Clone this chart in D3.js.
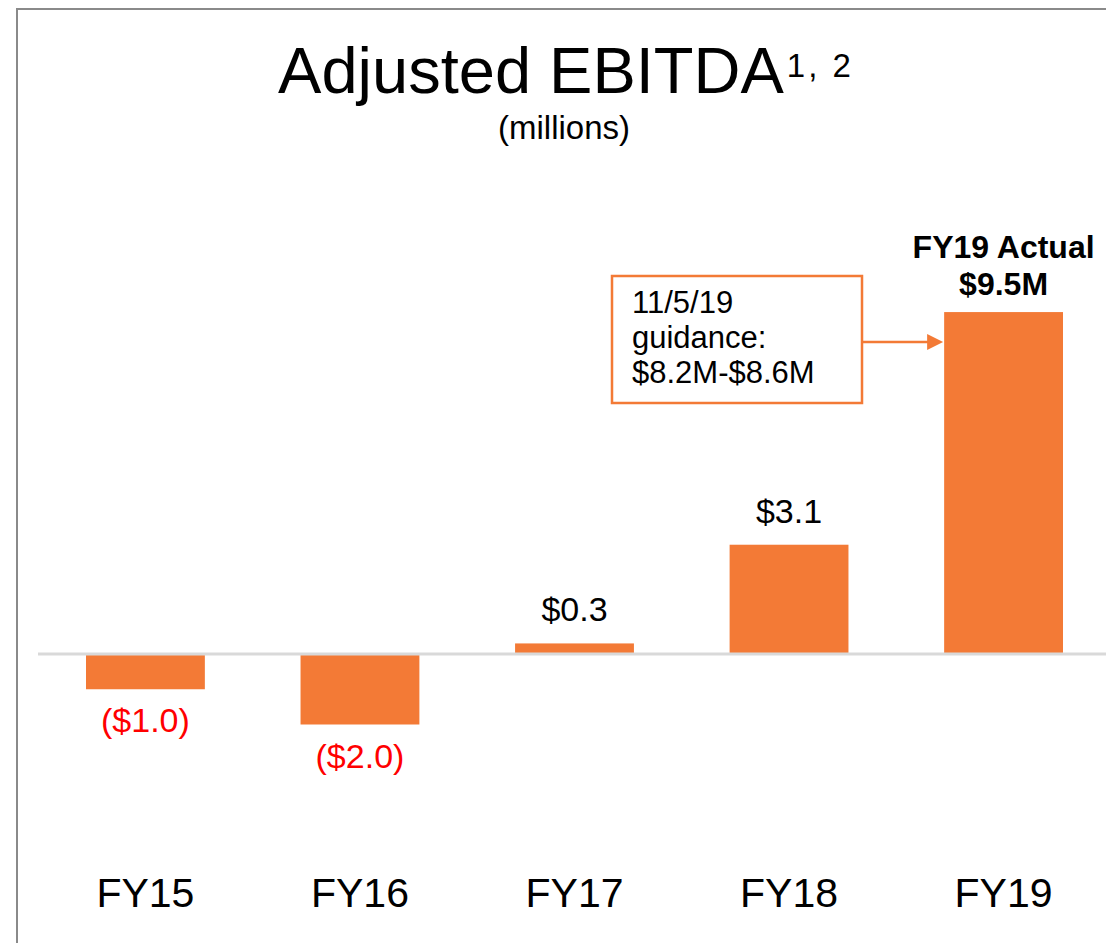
<!DOCTYPE html>
<html>
<head>
<meta charset="utf-8">
<script src="https://cdn.jsdelivr.net/npm/d3@7"></script>
<style>
  html, body { margin: 0; padding: 0; background: #fff; }
  svg { display: block; }
  text { font-family: "Liberation Sans", Arial, sans-serif; }
</style>
</head>
<body>
<svg id="chart" width="1106" height="943"></svg>
<script>
// ---- data ----
const categories = ["FY15", "FY16", "FY17", "FY18", "FY19"];
const values = [-1.0, -2.0, 0.3, 3.1, 9.7];   // bar heights as drawn (FY19 bar measures ~9.7)
const valueLabels = ["($1.0)", "($2.0)", "$0.3", "$3.1", ""];
const fy19Labels = ["FY19 Actual", "$9.5M"];
const guidanceLines = ["11/5/19", "guidance:", "$8.2M-$8.6M"];
const titleText = "Adjusted EBITDA";
const titleSup = "1, 2";
const subtitleText = "(millions)";

// ---- layout ----
const W = 1106, H = 943;
const svg = d3.select("#chart");
const barColor = "#f37a36";

const x = d3.scaleBand().domain(categories).range([86, 1063]).paddingInner(0.446).paddingOuter(0);
const y = d3.scaleLinear().domain([-3, 10]).range([654 + 3 * 35.25, 654 - 10 * 35.25]);

// frame border (top + left)
svg.append("path")
  .attr("d", `M17,${H} V9 H${W}`)
  .attr("fill", "none").attr("stroke", "#8a8a8a").attr("stroke-width", 2);

// title
const title = svg.append("text")
  .attr("x", 566).attr("y", 93)
  .attr("text-anchor", "middle")
  .attr("fill", "#000");
title.append("tspan").attr("font-size", 65).text(titleText);
title.append("tspan").attr("font-size", 33).attr("dx", 3).attr("dy", -16).attr("letter-spacing", 3).text(titleSup);

svg.append("text")
  .attr("x", 564).attr("y", 139)
  .attr("text-anchor", "middle")
  .attr("font-size", 33).attr("fill", "#000")
  .text(subtitleText);

// bars
svg.append("g").selectAll("rect")
  .data(values)
  .join("rect")
  .attr("x", (d, i) => x(categories[i]))
  .attr("width", x.bandwidth())
  .attr("y", d => Math.min(y(d), y(0)))
  .attr("height", d => Math.abs(y(d) - y(0)))
  .attr("fill", barColor);

// zero line
svg.append("line")
  .attr("x1", 38).attr("x2", W)
  .attr("y1", y(0)).attr("y2", y(0))
  .attr("stroke", "#d9d9d9").attr("stroke-width", 3);

// value labels
svg.append("g").selectAll("text")
  .data(values)
  .join("text")
  .attr("x", (d, i) => x(categories[i]) + x.bandwidth() / 2)
  .attr("y", d => d < 0 ? y(d) + 43 : y(d) - 22)
  .attr("text-anchor", "middle")
  .attr("font-size", 34)
  .attr("fill", d => d < 0 ? "#ff0000" : "#000")
  .text((d, i) => valueLabels[i]);

// FY19 bold label
const cx19 = x("FY19") + x.bandwidth() / 2;
svg.append("g").selectAll("text")
  .data(fy19Labels)
  .join("text")
  .attr("x", cx19)
  .attr("y", (d, i) => 258 + i * 37)
  .attr("text-anchor", "middle")
  .attr("font-size", 32).attr("font-weight", "bold").attr("fill", "#000")
  .text(d => d);

// category labels
svg.append("g").selectAll("text")
  .data(categories)
  .join("text")
  .attr("x", d => x(d) + x.bandwidth() / 2)
  .attr("y", 907)
  .attr("text-anchor", "middle")
  .attr("font-size", 41).attr("fill", "#000")
  .text(d => d);

// guidance callout
svg.append("rect")
  .attr("x", 612).attr("y", 276).attr("width", 250).attr("height", 127)
  .attr("fill", "#fff").attr("stroke", barColor).attr("stroke-width", 2.5);
svg.append("g").selectAll("text")
  .data(guidanceLines)
  .join("text")
  .attr("x", 632)
  .attr("y", (d, i) => 313 + i * 35)
  .attr("font-size", 31).attr("fill", "#000")
  .text(d => d);

// arrow
const arrowY = 342;
const tipX = x("FY19") - 1;
svg.append("line")
  .attr("x1", 862).attr("x2", tipX - 14)
  .attr("y1", arrowY).attr("y2", arrowY)
  .attr("stroke", barColor).attr("stroke-width", 2.5);
svg.append("path")
  .attr("d", `M${tipX},${arrowY} L${tipX - 16},${arrowY - 8} L${tipX - 16},${arrowY + 8} Z`)
  .attr("fill", barColor);
</script>
</body>
</html>
